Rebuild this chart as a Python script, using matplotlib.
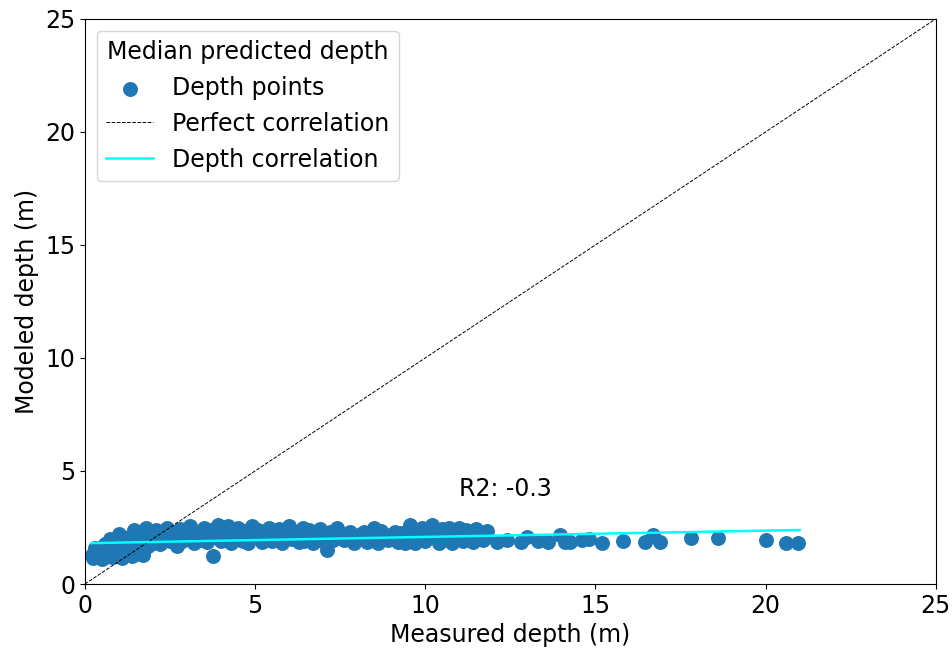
import matplotlib
matplotlib.use("Agg")
import matplotlib.pyplot as plt

# measured vs modelled depth (m)
measured = [
    0.2, 0.25, 0.3, 0.35, 0.4, 0.45, 0.5, 0.55, 0.6, 0.65, 0.7, 0.75, 0.8, 0.85, 0.9, 0.95,
    1.0, 1.05, 1.1, 1.15, 1.2, 1.25, 1.3, 1.35, 1.4, 1.45, 1.5, 1.55, 1.6, 1.65, 1.7, 1.75,
    1.8, 1.85, 1.9, 1.95, 2.0,
    2.1, 2.2, 2.3, 2.4, 2.5, 2.6, 2.7, 2.8, 2.9, 3.0, 3.1, 3.2, 3.3, 3.4, 3.5, 3.6, 3.7, 3.76,
    3.8, 3.9, 4.0, 4.1, 4.2, 4.3, 4.4, 4.5, 4.6, 4.7, 4.8, 4.9, 5.0, 5.1, 5.2, 5.3, 5.4, 5.5,
    5.6, 5.7, 5.8, 5.9, 6.0, 6.1, 6.2, 6.3, 6.4, 6.5, 6.6, 6.7, 6.8, 6.9, 7.0, 7.1, 7.2,
    7.4, 7.6, 7.8, 7.9, 8.1, 8.3, 8.5, 8.6, 8.9, 9.1, 9.2, 9.4, 9.55, 9.7, 9.8, 9.9, 10.0,
    10.2, 10.3, 10.4, 10.5, 10.6, 10.7, 10.8, 10.9, 11.0, 11.1, 11.2, 11.3, 11.4, 11.5, 11.6,
    11.7, 11.8,
    12.1, 12.4, 12.8, 13.0, 13.3, 13.6, 13.95, 14.1, 14.25, 14.6, 14.8, 15.2, 15.8, 16.45,
    16.7, 16.9, 17.8, 18.6, 20.0, 20.6, 20.95,
    # denser middle of the band
    0.3, 0.6, 0.9, 1.2, 1.5, 1.8, 0.5, 0.8, 1.1, 1.4, 1.7,
    2.15, 2.45, 2.75, 3.05, 3.35, 3.65, 3.95, 4.25, 4.55, 4.85, 5.15, 5.45, 5.75, 6.05,
    6.35, 6.65, 6.95, 2.35, 2.85, 3.45, 4.05, 4.65, 5.25, 5.85, 6.45,
    7.5, 7.7, 8.0, 8.2, 8.4, 8.8, 9.0, 9.3, 9.6, 10.1, 10.45, 10.75, 11.05, 11.35, 11.65,
    7.3, 8.7, 9.85, 10.65, 11.25, 11.75,
]
modeled = [
    1.3, 1.15, 1.45, 1.2, 1.35, 1.6, 1.25, 1.5, 1.2, 1.7, 1.4, 2.0, 1.3, 1.55, 1.8, 1.25,
    2.2, 1.6, 1.4, 1.9, 1.3, 1.7, 2.1, 1.5, 1.8, 2.4, 1.35, 2.0, 1.6, 2.3, 1.4, 1.9,
    2.5, 1.7, 2.2, 2.0, 1.8,
    2.4, 1.75, 2.1, 2.5, 1.9, 2.3, 1.7, 2.45, 2.0, 2.2, 2.55, 1.8, 2.3, 2.0, 2.5, 1.85, 2.4, 1.22,
    2.1, 2.6, 1.9, 2.3, 2.55, 1.8, 2.2, 2.5, 1.95, 2.35, 1.8, 2.55, 2.1, 2.4, 1.85, 2.25, 2.5, 1.9,
    2.2, 2.45, 1.8, 2.35, 2.55, 2.0, 2.3, 1.85, 2.5, 2.1, 2.4, 1.8, 2.2, 2.45, 1.9, 1.5, 2.3,
    2.48, 1.95, 2.3, 1.8, 2.2, 1.86, 2.5, 1.8, 1.95, 2.3, 1.85, 1.8, 2.6, 1.8, 2.2, 2.5, 1.9,
    2.6, 2.2, 1.8, 2.45, 2.0, 2.48, 1.8, 2.3, 2.5, 1.9, 2.4, 2.1, 1.85, 2.45, 2.2,
    1.95, 2.35,
    1.86, 1.95, 1.86, 2.08, 1.9, 1.86, 2.17, 1.86, 1.85, 1.95, 2.0, 1.8, 1.9, 1.86,
    2.17, 1.86, 2.03, 2.03, 1.95, 1.82, 1.82,
    # denser middle of the band
    1.6, 1.75, 1.5, 1.85, 2.1, 2.2, 1.1, 1.2, 1.15, 1.25, 1.3,
    2.1, 2.2, 2.1, 2.0, 2.15, 2.2, 2.3, 2.05, 2.25, 2.1, 2.15, 2.3, 2.05, 2.25,
    2.1, 2.0, 2.2, 1.95, 1.9, 1.95, 2.0, 1.9, 2.0, 1.95, 1.9,
    2.1, 2.2, 2.05, 2.3, 2.1, 2.2, 2.1, 2.25, 2.05, 2.2, 2.1, 2.2, 2.15, 2.25, 2.05,
    1.95, 2.35, 2.4, 2.3, 2.35, 2.1,
]

# fitted regression line end points
fit_x = [0.2, 21.0]
fit_y = [1.81, 2.39]
r2_text = "R2: -0.3"

plt.rcParams['font.size'] = 17

fig, ax = plt.subplots(figsize=(9.53, 6.5), dpi=100)
fig.subplots_adjust(left=0.089, right=0.982, top=0.971, bottom=0.1015)

ax.scatter(measured, modeled, s=95, color='#1f77b4', label='Depth points')
ax.plot([0, 25], [0, 25], 'k--', linewidth=0.7, label='Perfect correlation')
ax.plot(fit_x, fit_y, color='cyan', linewidth=1.8, label='Depth correlation')

ax.text(11, 3.9, r2_text)

ax.set_xlim(0, 25)
ax.set_ylim(0, 25)
ax.set_xlabel("Measured depth (m)")
ax.set_ylabel("Modeled depth (m)")
ax.legend(title="Median predicted depth", loc='upper left', title_fontsize=17)

fig.savefig("out.png")
